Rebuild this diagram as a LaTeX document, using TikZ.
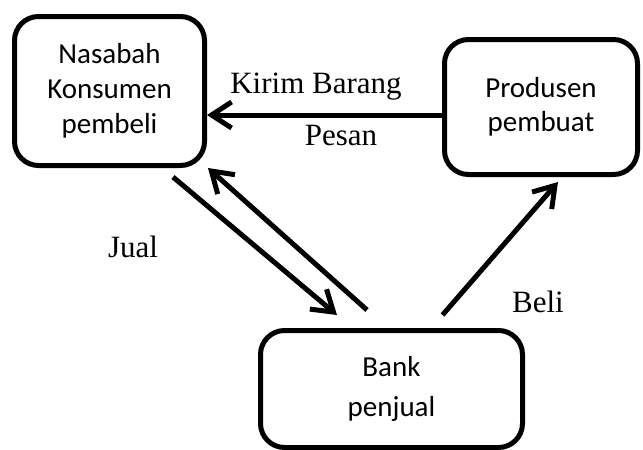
\documentclass[tikz,border=0pt]{standalone}
\usepackage{fontspec}
\setmainfont{Liberation Serif}
\newfontfamily\boxfont{Carlito}
\usetikzlibrary{arrows.meta,calc}
\begin{document}
\begin{tikzpicture}[x=1pt,y=-1pt,
  box/.style={draw=black,line width=5pt,rounded corners=24pt,fill=white,align=center,inner sep=0pt},
  arr/.style={line width=5pt,-{Straight Barb[length=20pt,width=26pt,line width=5pt]}},
  lbl/.style={anchor=base,inner sep=0pt,font=\fontsize{31}{36}\selectfont}]
\useasboundingbox (0,0) rectangle (643,450);
\node[box,minimum width=190pt,minimum height=149pt,font=\boxfont\fontsize{29}{35}\selectfont] (n1) at (109.5,91) {Nasabah\\Konsumen\\pembeli};
\node[box,minimum width=193pt,minimum height=135pt,font=\boxfont\fontsize{29}{34}\selectfont] (n2) at (541,107) {Produsen\\pembuat};
\node[box,minimum width=262pt,minimum height=117pt,font=\boxfont\fontsize{29}{40}\selectfont] (n3) at (391.5,389) {Bank\\penjual};
\draw[arr] ([yshift=-8pt]n2.west) -- ([yshift=-8pt]n2.west -| n1.east);
\draw[arr] ($(n1.south east)+(-34,9)$) -- ($(n3.north west)+(79,-13)$);
\draw[arr] ($(n3.north west)+(109,-18)$) -- ($(n1.south east)+(1,0)$);
\draw[arr] ($(n3.north)+(51,-13)$) -- ($(n2.south)+(17,5)$);
\node[lbl] (t1) at (316,93) {Kirim Barang};
\node[lbl] (t2) at (341,145) {Pesan};
\node[lbl] (t3) at (133,257) {Jual};
\node[lbl] (t4) at (538,312) {Beli};
\end{tikzpicture}
\end{document}
